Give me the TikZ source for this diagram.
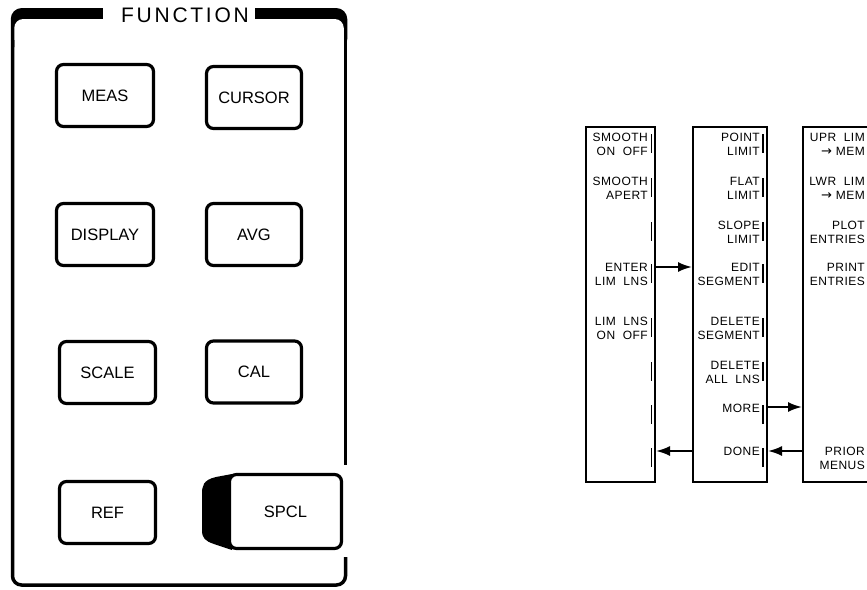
\documentclass[tikz,border=0pt]{standalone}
\usepackage{fontspec}
\setmainfont{Liberation Sans}
\newfontfamily\btnfont{Liberation Sans}
\newfontfamily\titlefont[LetterSpace=13]{Liberation Sans}
\newfontfamily\keyfont[LetterSpace=4]{Liberation Sans}
\newfontfamily\symfont{DejaVu Sans}
\newcommand{\tomem}{{\symfont\fontsize{13}{14}\selectfont →}}
\usetikzlibrary{arrows.meta}
\begin{document}
\begin{tikzpicture}[x=1pt,y={(0pt,-1pt)},
  btn/.style={draw, line width=3.2pt, rounded corners=7pt, minimum width=97pt, minimum height=62pt,
    font=\btnfont\fontsize{16.5}{18}\selectfont, fill=white, inner sep=0pt},
  menucol/.style={draw, line width=2pt, minimum height=355pt, inner sep=0pt},
  key/.style={anchor=north east, align=right, font=\keyfont\fontsize{12}{14}\selectfont, inner sep=0pt},
  keytick/.style={line width=1.2pt},
  flow/.style={line width=2pt, -{Latex[length=14pt,width=10pt]}}]
\useasboundingbox (0,0) rectangle (867,589);
\clip (0,0) rectangle (867,589);
% ---- left panel frame ----
\fill[rounded corners=11pt] (10.75,8) rectangle (347.25,50);
\fill[white, rounded corners=9pt] (14.25,19) rectangle (343.75,80);
\draw[line width=3.5pt, rounded corners=9pt] (12.5,40) -- (12.5,585) -- (345.5,585) -- (345.5,557);
\draw[line width=3.5pt] (345.5,40) -- (345.5,465);
\fill[white] (103,4) rectangle (255,20);
\node[font=\titlefont\fontsize{21}{24}\selectfont, inner sep=0pt] (title) at (185,15) {FUNCTION};
% ---- buttons ----
\node[btn] (meas) at (105,95.5) {MEAS};
\node[btn, minimum width=95pt] (cursor) at (254,97.5) {CURSOR};
\node[btn] (display) at (105,234.5) {DISPLAY};
\node[btn, minimum width=95pt] (avg) at (254,234.5) {AVG};
\node[btn, minimum width=96pt] (scale) at (107.5,372.5) {SCALE};
\node[btn, minimum width=95pt] (cal) at (254,372) {CAL};
\node[btn, minimum width=96pt] (ref) at (107.5,512.5) {REF};
\fill (232,474) -- (216,477) .. controls (203,480) and (202,486) .. (202,494) -- (202,530)
  .. controls (202,538) and (205,541) .. (214,544) -- (232,550) -- cycle;
\node[btn, minimum width=112pt, minimum height=74pt] (spcl) at (285.5,511.5) {SPCL};
% ---- menu columns ----
\node[menucol, minimum width=69pt] (c1) at (620.5,304.5) {};
\node[menucol, minimum width=74pt] (c2) at (730,304.5) {};
\node[menucol, minimum width=74pt] (c3) at (840,304.5) {};
\coordinate (r4a) at (0,267);
\coordinate (r7a) at (0,407);
\coordinate (r8a) at (0,451);
% ticks
\foreach \yy in {133,177,221,263,317,361,404,447} {
  \draw[keytick] (651.5,\yy+1) -- (651.5,\yy+20);
  \draw[keytick] (763,\yy+1) -- (763,\yy+20);
}
% column 1 labels
\node[key] (k11) at (648,133) {SMOOTH\\ON\ \ OFF};
\node[key] (k12) at (648,177) {SMOOTH\\APERT};
\node[key] (k14) at (648,263) {ENTER\\LIM\ \ LNS};
\node[key] (k15) at (648,317) {LIM\ \ LNS\\ON\ \ OFF};
% column 2 labels
\node[key] (k21) at (760,133) {POINT\\LIMIT};
\node[key] (k22) at (760,177) {FLAT\\LIMIT};
\node[key] (k23) at (760,221) {SLOPE\\LIMIT};
\node[key] (k24) at (760,263) {EDIT\\SEGMENT};
\node[key] (k25) at (760,317) {DELETE\\SEGMENT};
\node[key] (k26) at (760,361) {DELETE\\ALL\ \ LNS};
\node[key] (k27) at (760,404) {MORE};
\node[key] (k28) at (760,447) {DONE};
% column 3 labels
\node[key] (k31) at (865,133) {UPR\ \ LIM\\\tomem\ MEM};
\node[key] (k32) at (865,177) {LWR\ \ LIM\\\tomem\ MEM};
\node[key] (k33) at (865,221) {PLOT\\ENTRIES};
\node[key] (k34) at (865,263) {PRINT\\ENTRIES};
\node[key] (k38) at (865,447) {PRIOR\\MENUS};
% arrows
\draw[flow] (c1.east |- r4a) -- (c2.west |- r4a);
\draw[flow] (c2.east |- r7a) -- (c3.west |- r7a);
\draw[flow] (c2.west |- r8a) -- (c1.east |- r8a);
\draw[flow] (c3.west |- r8a) -- (c2.east |- r8a);
\end{tikzpicture}
\end{document}
